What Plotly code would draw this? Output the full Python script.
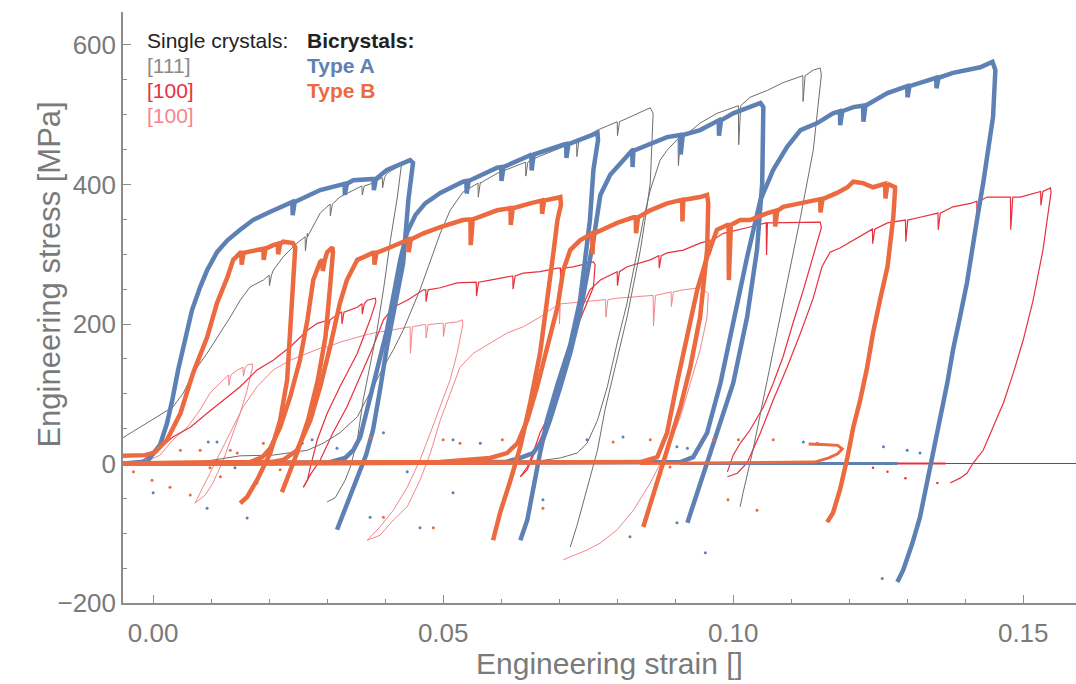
import plotly.graph_objects as go

# ---------------- data (engineering strain [], engineering stress [MPa]) ----------------
# Bicrystals, Type A (blue)
A1_load_x = [-0.0052, -0.0010, 0.0012, 0.0024, 0.0033, 0.0043, 0.0055, 0.0067, 0.0081, 0.0093, 0.0110, 0.0128, 0.0150, 0.0172, 0.0202, 0.0231, 0.0288, 0.0345, 0.0403, 0.0431, 0.0443]
A1_load_y = [0, 3, 27, 58, 91, 134, 177, 220, 253, 277, 303, 320, 335, 349, 361, 373, 392, 406, 421, 431, 435]
A1_unload_x = [0.0448, 0.0440, 0.0431, 0.0417, 0.0403, 0.0391, 0.0379, 0.0367, 0.0357, 0.0340, 0.0317]
A1_unload_y = [431, 378, 287, 227, 167, 105, 48, 12, -9, -48, -95]
A1_drop_x = [0.0240, 0.0330, 0.0380]
A1_drop_top = [375, 401, 408]
A1_drop_low = [356, 385, 392]

A2_load_x = [-0.0052, 0.0300, 0.0331, 0.0345, 0.0357, 0.0369, 0.0379, 0.0391, 0.0403, 0.0414, 0.0426, 0.0438, 0.0452, 0.0469, 0.0495, 0.0534, 0.0593, 0.0650, 0.0707, 0.0766]
A2_load_y = [0, 1, 8, 19, 38, 77, 110, 148, 191, 239, 292, 332, 356, 373, 388, 404, 424, 442, 457, 474]
A2_unload_x = [0.0767, 0.0759, 0.0753, 0.0736, 0.0719, 0.0697, 0.0679, 0.0667, 0.0655, 0.0645, 0.0633]
A2_unload_y = [464, 421, 349, 234, 170, 113, 62, 15, -34, -81, -110]
A2_drop_x = [0.0540, 0.0600, 0.0652, 0.0712]
A2_drop_top = [405, 425, 443, 458]
A2_drop_low = [387, 405, 420, 438]

A3_load_x = [-0.0052, 0.0607, 0.0633, 0.0655, 0.0672, 0.0684, 0.0702, 0.0719, 0.0736, 0.0748, 0.0759, 0.0771, 0.0788, 0.0828, 0.0886, 0.0943, 0.1000, 0.1047]
A3_load_y = [0, 2, 8, 15, 34, 62, 110, 158, 216, 270, 320, 385, 414, 449, 468, 478, 502, 517]
A3_unload_x = [0.1052, 0.1050, 0.1041, 0.1024, 0.1000, 0.0972, 0.0943, 0.0921]
A3_unload_y = [511, 402, 306, 210, 115, 44, -28, -85]
A3_drop_x = [0.0826, 0.0909, 0.0975]
A3_drop_top = [449, 471, 492]
A3_drop_low = [425, 443, 470]

A4_load_x = [-0.0052, 0.0909, 0.0931, 0.0955, 0.0978, 0.1000, 0.1024, 0.1047, 0.1069, 0.1093, 0.1116, 0.1145, 0.1172, 0.1207, 0.1266, 0.1322, 0.1379, 0.1426, 0.1447]
A4_load_y = [0, 2, 9, 44, 115, 201, 296, 378, 421, 454, 478, 488, 502, 511, 531, 546, 560, 568, 576]
A4_unload_x = [0.1452, 0.1448, 0.1440, 0.1431, 0.1421, 0.1412, 0.1403, 0.1391, 0.1379, 0.1369, 0.1357, 0.1345, 0.1334, 0.1322, 0.1309, 0.1293, 0.1283]
A4_unload_y = [564, 497, 449, 402, 353, 306, 259, 210, 163, 115, 67, 19, -28, -77, -114, -153, -170]
A4_drop_x = [0.1184, 0.1224, 0.1300, 0.1350]
A4_drop_top = [505, 513, 541, 553]
A4_drop_low = [485, 490, 525, 538]

A_tail_x = [0.0909, 0.1283]
A_tail_y = [0, 0]

# Bicrystals, Type B (orange)
B1_load_x = [-0.0052, -0.0014, 0.0003, 0.0024, 0.0047, 0.0069, 0.0093, 0.0110, 0.0128, 0.0138, 0.0150, 0.0179, 0.0207, 0.0224, 0.0241]
B1_load_y = [11, 12, 16, 34, 72, 130, 181, 230, 267, 292, 302, 306, 313, 318, 316]
B1_unload_x = [0.0245, 0.0241, 0.0236, 0.0231, 0.0219, 0.0202, 0.0179, 0.0162, 0.0150]
B1_unload_y = [310, 253, 181, 120, 62, 15, -24, -48, -57]
B1_drop_x = [0.0152, 0.0190, 0.0215]
B1_drop_top = [302, 308, 315]
B1_drop_low = [285, 292, 300]

B2_load_x = [-0.0052, 0.0167, 0.0188, 0.0202, 0.0219, 0.0236, 0.0253, 0.0266, 0.0276, 0.0288, 0.0300, 0.0309]
B2_load_y = [0, 2, 9, 22, 52, 95, 148, 206, 263, 289, 303, 310]
B2_unload_x = [0.0310, 0.0305, 0.0297, 0.0284, 0.0267, 0.0248, 0.0231, 0.0222]
B2_unload_y = [303, 253, 181, 120, 62, 15, -24, -41]
B2_drop_x = [0.0292]
B2_drop_top = [292]
B2_drop_low = [276]

B3_load_x = [-0.0052, 0.0202, 0.0224, 0.0248, 0.0271, 0.0288, 0.0305, 0.0322, 0.0334, 0.0352, 0.0379, 0.0409, 0.0438, 0.0466, 0.0495, 0.0534, 0.0593, 0.0650, 0.0697, 0.0702]
B3_load_y = [0, 2, 5, 19, 62, 110, 167, 230, 263, 292, 302, 310, 320, 330, 339, 349, 363, 373, 381, 382]
B3_unload_x = [0.0703, 0.0697, 0.0690, 0.0679, 0.0667, 0.0650, 0.0633, 0.0616, 0.0598, 0.0586]
B3_unload_y = [371, 349, 302, 230, 158, 87, 24, -24, -71, -110]
B3_drop_x = [0.0381, 0.0440, 0.0547, 0.0616, 0.0670]
B3_drop_top = [302, 321, 350, 366, 377]
B3_drop_low = [285, 303, 313, 342, 358]

B4_load_x = [-0.0052, 0.0495, 0.0581, 0.0610, 0.0628, 0.0645, 0.0662, 0.0679, 0.0697, 0.0707, 0.0719, 0.0736, 0.0759, 0.0783, 0.0800, 0.0828, 0.0857, 0.0886, 0.0914, 0.0943, 0.0955]
B4_load_y = [0, 2, 8, 15, 29, 62, 110, 167, 224, 277, 306, 320, 330, 339, 345, 353, 363, 373, 378, 382, 385]
B4_unload_x = [0.0957, 0.0955, 0.0943, 0.0926, 0.0909, 0.0886, 0.0869, 0.0845]
B4_unload_y = [373, 306, 210, 138, 81, 19, -28, -91]
B4_drop_x = [0.0757, 0.0832, 0.0912]
B4_drop_top = [330, 353, 378]
B4_drop_low = [300, 330, 347]

B5_load_x = [-0.0052, 0.0840, 0.0869, 0.0886, 0.0903, 0.0921, 0.0938, 0.0955, 0.0972, 0.0990, 0.1012, 0.1029, 0.1059, 0.1086, 0.1116, 0.1145, 0.1179, 0.1197, 0.1207, 0.1224, 0.1241, 0.1266, 0.1279]
B5_load_y = [0, 2, 9, 44, 115, 187, 249, 296, 335, 342, 349, 349, 359, 368, 373, 378, 388, 396, 404, 402, 396, 402, 396]
B5_unload_x = [0.1279, 0.1276, 0.1266, 0.1253, 0.1241, 0.1231, 0.1219, 0.1207, 0.1197, 0.1184, 0.1172, 0.1162]
B5_unload_y = [392, 353, 282, 234, 187, 138, 91, 52, 9, -38, -71, -84]
B5_drop_x = [0.0992, 0.1072, 0.1150, 0.1262]
B5_drop_top = [342, 362, 379, 401]
B5_drop_low = [263, 340, 360, 380]

B_tail_x = [0.0840, 0.1140, 0.1165, 0.1180, 0.1188, 0.1180, 0.1162, 0.1130]
B_tail_y = [0, 2, 8, 14, 21, 26, 27, 28]

# Single crystals [111] (grey)
G1_load_x = [-0.0052, -0.0022, 0.0007, 0.0034, 0.0052, 0.0069, 0.0093, 0.0116, 0.0133, 0.0150, 0.0167, 0.0190, 0.0207, 0.0224, 0.0248, 0.0266, 0.0288, 0.0322, 0.0345, 0.0379, 0.0403, 0.0421, 0.0426]
G1_load_y = [37, 52, 67, 81, 101, 130, 158, 187, 210, 234, 253, 263, 277, 296, 316, 330, 359, 382, 392, 402, 416, 425, 432]
G1_unload_x = [0.0428, 0.0421, 0.0409, 0.0397, 0.0386, 0.0374, 0.0362, 0.0352, 0.0340, 0.0331, 0.0314, 0.0300]
G1_unload_y = [428, 382, 320, 249, 191, 141, 91, 34, -5, -24, -49, -55]
G1_drop_x = [0.0200, 0.0262, 0.0305, 0.0360, 0.0395]
G1_drop_top = [270, 325, 372, 398, 410]
G1_drop_low = [255, 305, 355, 385, 395]

G2_load_x = [0.0081, 0.0150, 0.0207, 0.0236, 0.0266, 0.0293, 0.0322, 0.0352, 0.0379, 0.0397, 0.0414, 0.0431, 0.0460, 0.0495, 0.0512, 0.0534, 0.0564, 0.0593, 0.0650, 0.0707, 0.0766, 0.0822, 0.0857]
G2_load_y = [2, 11, 12, 15, 19, 29, 44, 67, 110, 138, 163, 191, 249, 330, 363, 389, 403, 416, 435, 454, 478, 497, 510]
G2_unload_x = [0.0862, 0.0857, 0.0848, 0.0840, 0.0817, 0.0793, 0.0779, 0.0766, 0.0748, 0.0731, 0.0719]
G2_unload_y = [502, 402, 349, 306, 210, 127, 77, 19, -38, -88, -120]
G2_drop_x = [0.0560, 0.0642, 0.0730, 0.0800]
G2_drop_top = [402, 432, 463, 490]
G2_drop_low = [382, 412, 440, 470]

G3_load_x = [0.0650, 0.0702, 0.0731, 0.0748, 0.0766, 0.0783, 0.0800, 0.0817, 0.0834, 0.0845, 0.0857, 0.0874, 0.0886, 0.0914, 0.0943, 0.0972, 0.1000, 0.1029, 0.1059, 0.1086, 0.1116, 0.1138, 0.1150]
G3_load_y = [2, 8, 15, 29, 62, 110, 173, 230, 302, 349, 392, 435, 449, 468, 488, 502, 511, 525, 535, 546, 554, 564, 567]
G3_unload_x = [0.1152, 0.1138, 0.1116, 0.1093, 0.1069, 0.1052, 0.1034, 0.1017, 0.1012]
G3_unload_y = [557, 449, 353, 259, 163, 91, 19, -42, -62]
G3_drop_x = [0.0905, 0.1009, 0.1120]
G3_drop_top = [466, 513, 556]
G3_drop_low = [427, 457, 519]

# Single crystals [100] (red)
R1_load_x = [-0.0022, -0.0005, 0.0007, 0.0034, 0.0064, 0.0093, 0.0121, 0.0150, 0.0179, 0.0207, 0.0236, 0.0266, 0.0283, 0.0305, 0.0322, 0.0352, 0.0369, 0.0383]
R1_load_y = [2, 12, 19, 38, 52, 72, 91, 110, 134, 148, 167, 191, 201, 206, 216, 224, 234, 237]
R1_unload_x = [0.0384, 0.0374, 0.0352, 0.0322, 0.0300, 0.0283, 0.0271, 0.0266, 0.0259]
R1_unload_y = [232, 206, 158, 110, 72, 34, -5, -24, -34]
R1_drop_x = [0.0300, 0.0325, 0.0360]
R1_drop_top = [205, 217, 229]
R1_drop_low = [190, 200, 214]

R2_load_x = [0.0259, 0.0271, 0.0288, 0.0310, 0.0334, 0.0357, 0.0379, 0.0397, 0.0414, 0.0438, 0.0466, 0.0495, 0.0524, 0.0552, 0.0581, 0.0610, 0.0638, 0.0667, 0.0697, 0.0724, 0.0759]
R2_load_y = [-34, -16, 5, 44, 81, 124, 167, 206, 224, 234, 249, 252, 259, 260, 263, 267, 273, 275, 280, 282, 289]
R2_unload_x = [0.0762, 0.0759, 0.0736, 0.0714, 0.0702, 0.0684, 0.0667, 0.0655, 0.0645, 0.0633]
R2_unload_y = [285, 253, 206, 153, 113, 72, 44, 15, -5, -19]
R2_drop_x = [0.0470, 0.0557, 0.0620, 0.0702]
R2_drop_top = [249, 260, 269, 280]
R2_drop_low = [232, 240, 250, 258]

R3_load_x = [0.0633, 0.0645, 0.0667, 0.0690, 0.0702, 0.0724, 0.0741, 0.0753, 0.0771, 0.0793, 0.0817, 0.0857, 0.0886, 0.0914, 0.0943, 0.0983, 0.1029, 0.1059, 0.1086, 0.1116, 0.1150]
R3_load_y = [-19, -9, 34, 77, 105, 177, 227, 249, 263, 273, 282, 292, 302, 306, 316, 330, 339, 345, 345, 346, 346]
R3_unload_x = [0.1152, 0.1138, 0.1121, 0.1103, 0.1086, 0.1069, 0.1052, 0.1029, 0.1012, 0.1000, 0.0990]
R3_unload_y = [338, 296, 249, 201, 153, 115, 81, 48, 29, 12, -12]
R3_drop_x = [0.0800, 0.0872, 0.0960, 0.1057]
R3_drop_top = [275, 298, 320, 345]
R3_drop_low = [255, 280, 300, 299]

R4_load_x = [0.0990, 0.1007, 0.1024, 0.1047, 0.1069, 0.1093, 0.1116, 0.1138, 0.1153, 0.1167, 0.1184, 0.1207, 0.1236, 0.1266, 0.1293, 0.1322, 0.1351, 0.1379, 0.1409, 0.1438, 0.1466, 0.1495, 0.1524, 0.1547]
R4_load_y = [-19, -14, 1, 44, 91, 138, 187, 237, 282, 303, 309, 320, 335, 345, 349, 353, 359, 368, 373, 382, 382, 382, 388, 395]
R4_unload_x = [0.1548, 0.1534, 0.1517, 0.1500, 0.1483, 0.1466, 0.1448, 0.1431, 0.1414, 0.1403, 0.1391, 0.1374]
R4_unload_y = [389, 306, 234, 177, 130, 87, 52, 19, 1, -14, -21, -28]
R4_drop_x = [0.1240, 0.1297, 0.1353, 0.1420, 0.1478, 0.1530]
R4_drop_top = [336, 349, 359, 376, 382, 390]
R4_drop_low = [315, 318, 335, 355, 335, 370]

R_tail_x = [0.1000, 0.1366]
R_tail_y = [0, 0]

# Single crystals [100] (light red)
P1_load_x = [-0.0014, 0.0012, 0.0034, 0.0059, 0.0081, 0.0098, 0.0121, 0.0145, 0.0162, 0.0171]
P1_load_y = [2, 12, 34, 52, 77, 101, 120, 134, 141, 143]
P1_unload_x = [0.0171, 0.0162, 0.0150, 0.0138, 0.0121, 0.0103, 0.0090, 0.0072]
P1_unload_y = [137, 105, 72, 44, 5, -28, -45, -57]
P1_drop_x = [0.0130, 0.0155]
P1_drop_top = [127, 138]
P1_drop_low = [112, 125]

P2_load_x = [0.0072, 0.0086, 0.0110, 0.0133, 0.0155, 0.0179, 0.0207, 0.0236, 0.0266, 0.0293, 0.0322, 0.0352, 0.0379, 0.0409, 0.0438, 0.0466, 0.0495, 0.0524, 0.0533]
P2_load_y = [-57, -34, 5, 44, 81, 110, 134, 148, 158, 167, 174, 181, 187, 191, 196, 199, 201, 203, 206]
P2_unload_x = [0.0534, 0.0524, 0.0512, 0.0495, 0.0478, 0.0460, 0.0438, 0.0414, 0.0391, 0.0369]
P2_unload_y = [199, 158, 120, 81, 44, 5, -34, -67, -91, -110]
P2_drop_x = [0.0300, 0.0443, 0.0470, 0.0500]
P2_drop_top = [168, 196, 199, 201]
P2_drop_low = [150, 158, 180, 182]

P3_load_x = [0.0369, 0.0391, 0.0414, 0.0438, 0.0460, 0.0478, 0.0495, 0.0512, 0.0529, 0.0552, 0.0581, 0.0610, 0.0638, 0.0667, 0.0702, 0.0731, 0.0771, 0.0800, 0.0857, 0.0914, 0.0943]
P3_load_y = [-110, -103, -81, -62, -24, 15, 62, 101, 138, 158, 173, 187, 196, 210, 230, 231, 234, 237, 241, 249, 252]
P3_unload_x = [0.0957, 0.0955, 0.0943, 0.0926, 0.0909, 0.0886, 0.0857, 0.0828, 0.0800, 0.0771, 0.0748, 0.0707]
P3_unload_y = [244, 210, 163, 115, 67, 19, -28, -67, -95, -114, -124, -138]
P3_drop_x = [0.0700, 0.0780, 0.0862, 0.0893]
P3_drop_top = [229, 235, 241, 246]
P3_drop_low = [200, 210, 197, 225]

# stray data points near zero stress
B_dots_x = [-0.0034, -0.0002, 0.0029, 0.0064, 0.0098, 0.0116, 0.0133, 0.0145, 0.0047, 0.0081, 0.0190, 0.0219, 0.0231, 0.0374, 0.0500, 0.0529, 0.0602, 0.0672, 0.0397, 0.0483, 0.0793, 0.0857, 0.0891, 0.0966, 0.1009, 0.1041, 0.0991, 0.1069, 0.1145]
B_dots_y = [-12, -24, -34, -45, -6, -19, 19, 15, 19, 19, 29, -9, -24, 37, 34, 29, 34, -64, -77, -92, 31, 34, -5, 34, 34, -67, -52, 34, 29]
A_dots_x = [0.0000, 0.0095, 0.0110, 0.0141, 0.0093, 0.0162, 0.0179, 0.0257, 0.0274, 0.0317, 0.0397, 0.0374, 0.0438, 0.0460, 0.0517, 0.0517, 0.0564, 0.0672, 0.0748, 0.0810, 0.0822, 0.0903, 0.0921, 0.0903, 0.0952, 0.1121, 0.1259, 0.1300, 0.1322, 0.1257]
A_dots_y = [-42, 31, 31, -6, -64, -78, -28, 29, 34, 22, 44, -77, -12, -92, 34, -42, 29, -52, 34, 38, -105, 24, 22, -85, -128, 31, 24, 19, 15, -165]
R_dots_x = [0.1241, 0.1266, 0.1297, 0.1352]
R_dots_y = [-6, -12, -21, -28]

# axes
x_range = [-0.0052, 0.1591]
y_range = [-200, 647.3]
x_ticks = [0.00, 0.05, 0.10, 0.15]
x_tick_text = ["0.00", "0.05", "0.10", "0.15"]
y_ticks = [-200, 0, 200, 400, 600]
y_tick_text = ["\u2212200", "0", "200", "400", "600"]

# ---------------- styles ----------------
BLUE = "#5E81B5"
ORANGE = "#EC6A3F"
GREY = "#6E6E6E"
RED = "#E8303D"
PINK = "#F3868C"
AXIS = "#8C8C8C"
TXT = "#7A7A7A"
FONT = "Liberation Sans, Arial, Helvetica, sans-serif"


def build(lx, ly, ux, uy, dx=(), dtop=(), dlow=()):
    """Loading branch with serration drops merged by strain, followed by the unloading branch."""
    pts = list(zip(lx, ly))
    for x, t, l in zip(dx, dtop, dlow):
        pts += [(x, t), (x + 0.00005, l), (x + 0.0004, t)]
    pts.sort(key=lambda p: p[0])
    xs = [p[0] for p in pts] + list(ux)
    ys = [p[1] for p in pts] + list(uy)
    return xs, ys


fig = go.Figure()


def add_line(xs, ys, color, width):
    fig.add_trace(go.Scatter(x=xs, y=ys, mode="lines",
                             line=dict(color=color, width=width),
                             hoverinfo="skip", showlegend=False))


# thin single-crystal curves first
for args in [
    (P1_load_x, P1_load_y, P1_unload_x, P1_unload_y, P1_drop_x, P1_drop_top, P1_drop_low),
    (P2_load_x, P2_load_y, P2_unload_x, P2_unload_y, P2_drop_x, P2_drop_top, P2_drop_low),
    (P3_load_x, P3_load_y, P3_unload_x, P3_unload_y, P3_drop_x, P3_drop_top, P3_drop_low),
]:
    add_line(*build(*args), PINK, 1)

add_line(R_tail_x, R_tail_y, RED, 2)
for args in [
    (R1_load_x, R1_load_y, R1_unload_x, R1_unload_y, R1_drop_x, R1_drop_top, R1_drop_low),
    (R2_load_x, R2_load_y, R2_unload_x, R2_unload_y, R2_drop_x, R2_drop_top, R2_drop_low),
    (R3_load_x, R3_load_y, R3_unload_x, R3_unload_y, R3_drop_x, R3_drop_top, R3_drop_low),
    (R4_load_x, R4_load_y, R4_unload_x, R4_unload_y, R4_drop_x, R4_drop_top, R4_drop_low),
]:
    add_line(*build(*args), RED, 1.2)

for args in [
    (G1_load_x, G1_load_y, G1_unload_x, G1_unload_y, G1_drop_x, G1_drop_top, G1_drop_low),
    (G2_load_x, G2_load_y, G2_unload_x, G2_unload_y, G2_drop_x, G2_drop_top, G2_drop_low),
    (G3_load_x, G3_load_y, G3_unload_x, G3_unload_y, G3_drop_x, G3_drop_top, G3_drop_low),
]:
    add_line(*build(*args), GREY, 1)

fig.add_trace(go.Scatter(x=R_dots_x, y=R_dots_y, mode="markers",
                         marker=dict(color=RED, size=2.5), hoverinfo="skip", showlegend=False))

# Type A (blue)
add_line(A_tail_x, A_tail_y, BLUE, 3)
for args in [
    (A1_load_x, A1_load_y, A1_unload_x, A1_unload_y, A1_drop_x, A1_drop_top, A1_drop_low),
    (A2_load_x, A2_load_y, A2_unload_x, A2_unload_y, A2_drop_x, A2_drop_top, A2_drop_low),
    (A3_load_x, A3_load_y, A3_unload_x, A3_unload_y, A3_drop_x, A3_drop_top, A3_drop_low),
    (A4_load_x, A4_load_y, A4_unload_x, A4_unload_y, A4_drop_x, A4_drop_top, A4_drop_low),
]:
    add_line(*build(*args), BLUE, 4.5)

fig.add_trace(go.Scatter(x=A_dots_x, y=A_dots_y, mode="markers",
                         marker=dict(color=BLUE, size=3), hoverinfo="skip", showlegend=False))

# Type B (orange)
add_line(B_tail_x, B_tail_y, ORANGE, 3)
for args in [
    (B1_load_x, B1_load_y, B1_unload_x, B1_unload_y, B1_drop_x, B1_drop_top, B1_drop_low),
    (B2_load_x, B2_load_y, B2_unload_x, B2_unload_y, B2_drop_x, B2_drop_top, B2_drop_low),
    (B3_load_x, B3_load_y, B3_unload_x, B3_unload_y, B3_drop_x, B3_drop_top, B3_drop_low),
    (B4_load_x, B4_load_y, B4_unload_x, B4_unload_y, B4_drop_x, B4_drop_top, B4_drop_low),
    (B5_load_x, B5_load_y, B5_unload_x, B5_unload_y, B5_drop_x, B5_drop_top, B5_drop_low),
]:
    add_line(*build(*args), ORANGE, 4.5)

fig.add_trace(go.Scatter(x=B_dots_x, y=B_dots_y, mode="markers",
                         marker=dict(color=ORANGE, size=3), hoverinfo="skip", showlegend=False))

# ---------------- layout ----------------
axis_common = dict(showgrid=False, showline=True, linecolor=AXIS, linewidth=1.5,
                   ticks="inside", tickcolor=AXIS, tickwidth=1, ticklen=8,
                   tickfont=dict(family=FONT, size=26, color=TXT))

fig.update_layout(
    width=1076, height=684,
    margin=dict(l=123, r=0, t=12, b=81),
    paper_bgcolor="white", plot_bgcolor="white",
    showlegend=False, hovermode=False,
    xaxis=dict(range=x_range, tickvals=x_ticks, ticktext=x_tick_text, zeroline=False,
               minor=dict(ticks="inside", dtick=0.01, tick0=0, ticklen=4, tickcolor=AXIS),
               ticklabelstandoff=6, **axis_common),
    xaxis2=dict(range=x_range, overlaying="x", side="top", anchor="y",
                showgrid=False, showline=True, linecolor=AXIS, linewidth=1,
                ticks="inside", tickcolor=AXIS, ticklen=6, tickvals=x_ticks,
                showticklabels=False, zeroline=False,
                minor=dict(ticks="inside", dtick=0.01, tick0=0, ticklen=3, tickcolor=AXIS)),
    yaxis=dict(range=y_range, tickvals=y_ticks, ticktext=y_tick_text,
               zeroline=True, zerolinecolor="#555555", zerolinewidth=1,
               minor=dict(ticks="inside", dtick=50, tick0=0, ticklen=4, tickcolor=AXIS),
               **axis_common),
)

# axis titles
fig.add_annotation(text="Engineering strain []", xref="paper", yref="paper",
                   x=0.511, y=-0.102, xanchor="center", yanchor="middle", showarrow=False,
                   font=dict(family=FONT, size=30, color=TXT))
fig.add_annotation(text="Engineering stress [MPa]", xref="paper", yref="paper",
                   x=-0.077, y=0.555, xanchor="center", yanchor="middle", showarrow=False,
                   textangle=-90, font=dict(family=FONT, size=31, color=TXT))

# legend text
legend_items = [
    ("Single crystals:", 0.023, 0.9526, "#222222", False),
    ("[111]", 0.023, 0.9103, "#8A8A8A", False),
    ("[100]", 0.023, 0.8680, RED, False),
    ("[100]", 0.023, 0.8257, PINK, False),
    ("Bicrystals:", 0.191, 0.9526, "#222222", True),
    ("Type A", 0.191, 0.9103, BLUE, True),
    ("Type B", 0.191, 0.8680, ORANGE, True),
]
for txt, lx, ly, col, bold in legend_items:
    fig.add_annotation(text=f"<b>{txt}</b>" if bold else txt, xref="paper", yref="paper",
                       x=lx, y=ly, xanchor="left", yanchor="middle", showarrow=False,
                       font=dict(family=FONT, size=21, color=col))

fig.write_html("out.html", config={"displayModeBar": False},
               post_script="document.body.style.margin='0px';")
